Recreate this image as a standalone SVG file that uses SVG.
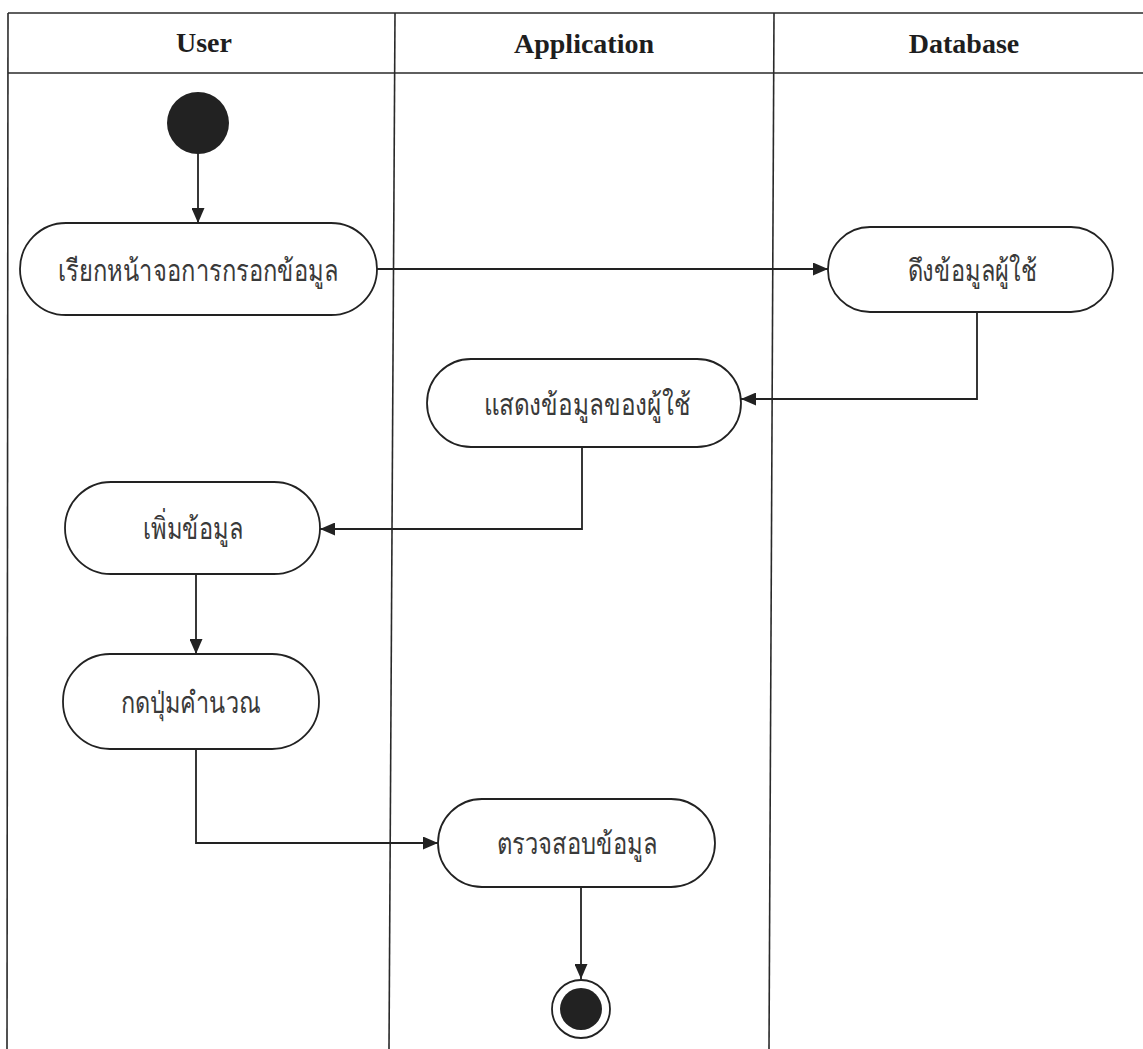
<svg xmlns="http://www.w3.org/2000/svg" width="1143" height="1049" viewBox="0 0 1143 1049">
<style>
.lane{stroke:#2a2a2a;stroke-width:1.6;fill:none}
.hdr{font-family:"Liberation Serif","Times New Roman",serif;font-weight:bold;font-size:28px;fill:#1e1e1e;text-anchor:middle}
.act{fill:#fff;stroke:#222;stroke-width:1.8}
.lbl{font-family:"Noto Sans","DejaVu Sans",sans-serif;font-size:30px;font-weight:300;fill:#3a3a3a;text-anchor:middle}
.con{stroke:#222;stroke-width:1.8;fill:none;marker-end:url(#arr)}
.dot{fill:#222}
</style>
<defs>
<marker id="arr" viewBox="0 0 15 13" refX="15" refY="6.5" markerWidth="15" markerHeight="13" markerUnits="userSpaceOnUse" orient="auto">
<path d="M0,0 L15,6.5 L0,13 z" fill="#222"/>
</marker>
</defs>
<rect width="1143" height="1049" fill="#fff"/>
<g id="swimlanes">
<line class="lane" x1="8" y1="13" x2="1143" y2="13"/>
<line class="lane" x1="8" y1="73" x2="1143" y2="73"/>
<line class="lane" x1="8" y1="13" x2="7" y2="1049"/>
<line class="lane" x1="395" y1="13" x2="389" y2="1049"/>
<line class="lane" x1="774" y1="13" x2="769" y2="1049"/>
<text class="hdr" x="204" y="52">User</text>
<text class="hdr" x="584" y="53">Application</text>
<text class="hdr" x="964" y="53">Database</text>
</g>
<g id="connectors">
<path class="con" d="M198,153 L198,223"/>
<path class="con" d="M377,269 L828,269"/>
<path class="con" d="M977,312 L977,399 L741,399"/>
<path class="con" d="M582,447 L582,529 L320,529"/>
<path class="con" d="M196,574 L196,654"/>
<path class="con" d="M196,749 L196,843 L438,843"/>
<path class="con" d="M581,887 L581,979"/>
</g>
<g id="start"><circle class="dot" cx="198" cy="123" r="31"/></g>
<g id="n1"><rect class="act" x="20" y="223" width="357" height="92" rx="46"/><text class="lbl" x="198" y="281" textLength="280" lengthAdjust="spacingAndGlyphs">เรียกหน้าจอการกรอกข้อมูล</text></g>
<g id="n2"><rect class="act" x="828" y="227" width="285" height="85" rx="42"/><text class="lbl" x="972" y="281" textLength="129" lengthAdjust="spacingAndGlyphs">ดึงข้อมูลผู้ใช้</text></g>
<g id="n3"><rect class="act" x="427" y="359" width="314" height="88" rx="44"/><text class="lbl" x="587" y="415" textLength="207" lengthAdjust="spacingAndGlyphs">แสดงข้อมูลของผู้ใช้</text></g>
<g id="n4"><rect class="act" x="65" y="482" width="255" height="92" rx="46"/><text class="lbl" x="193" y="539" textLength="100" lengthAdjust="spacingAndGlyphs">เพิ่มข้อมูล</text></g>
<g id="n5"><rect class="act" x="63" y="654" width="256" height="95" rx="47"/><text class="lbl" x="191" y="713" textLength="140" lengthAdjust="spacingAndGlyphs">กดปุ่มคำนวณ</text></g>
<g id="n6"><rect class="act" x="438" y="799" width="277" height="88" rx="44"/><text class="lbl" x="577" y="854" textLength="160" lengthAdjust="spacingAndGlyphs">ตรวจสอบข้อมูล</text></g>
<g id="end"><circle cx="581" cy="1009" r="29" fill="#fff" stroke="#222" stroke-width="1.8"/><circle class="dot" cx="581" cy="1009" r="21"/></g>
</svg>
